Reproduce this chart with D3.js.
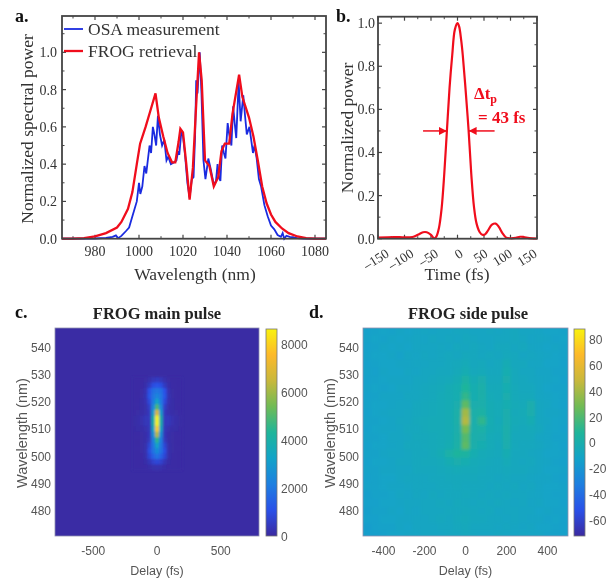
<!DOCTYPE html>
<html>
<head>
<meta charset="utf-8">
<script src="https://cdn.jsdelivr.net/npm/d3@7"></script>
<style>
  html, body { margin: 0; padding: 0; background: #fff; }
  svg { display: block; filter: blur(0.45px); }
  .serif { font-family: "Liberation Serif", serif; }
  .sans { font-family: "Liberation Sans", sans-serif; }
</style>
</head>
<body>
<div id="chart"></div>
<script>
// panel a: spectra as [wavelength nm, power]
var osaSpectrum = [[965,0],[980,0.001],[985,0.004],[988,0.01],[989.5,0.018],[990.5,0.003],[992,0.015],[994,0.04],[995.5,0.06],[997,0.12],[999,0.2],[1000,0.3],[1000.6,0.24],[1001.5,0.28],[1002.5,0.39],[1003.3,0.35],[1004,0.42],[1004.8,0.5],[1005.5,0.46],[1006.3,0.6],[1007,0.56],[1007.8,0.5],[1008.6,0.66],[1009.5,0.56],[1010.5,0.5],[1011.5,0.53],[1012.5,0.42],[1013.3,0.44],[1014.5,0.4],[1016,0.41],[1017,0.42],[1017.8,0.47],[1018.3,0.45],[1019.3,0.58],[1020,0.55],[1021,0.44],[1022,0.3],[1023,0.22],[1024,0.32],[1024.8,0.33],[1025.5,0.55],[1026,0.85],[1026.6,0.78],[1027.6,1],[1028.4,0.78],[1029.3,0.42],[1030.2,0.32],[1031.5,0.43],[1032.5,0.38],[1034,0.29],[1035,0.31],[1035.7,0.4],[1036.3,0.33],[1037,0.31],[1037.8,0.5],[1038.6,0.46],[1039.3,0.43],[1040.3,0.62],[1041,0.56],[1042,0.5],[1042.8,0.71],[1043.5,0.62],[1044.2,0.54],[1045.3,0.84],[1046.2,0.63],[1047.4,0.77],[1048.2,0.66],[1049,0.56],[1050.2,0.6],[1051,0.53],[1051.8,0.46],[1052.5,0.5],[1053.5,0.43],[1054.5,0.32],[1055.5,0.28],[1057,0.18],[1058.5,0.12],[1060,0.07],[1061.5,0.05],[1063,0.02],[1064.5,0.01],[1065.3,0.03],[1066,0],[1067,0.016],[1068.5,0.01],[1072,0.003],[1075,0],[1085,0]];
var frogSpectrum = [[965,0],[970,0],[975,0.003],[980,0.012],[985,0.03],[990,0.06],[992,0.09],[995,0.16],[997,0.25],[999,0.4],[1000.5,0.51],[1003,0.6],[1005,0.68],[1007.5,0.78],[1009,0.65],[1011,0.55],[1013,0.46],[1015,0.41],[1016.5,0.41],[1018,0.52],[1018.8,0.59],[1020,0.57],[1021.5,0.4],[1023,0.21],[1024.5,0.38],[1026,0.72],[1027.3,1],[1028.5,0.85],[1030,0.42],[1032,0.39],[1034,0.28],[1036,0.33],[1037.5,0.47],[1039,0.51],[1041,0.51],[1042.5,0.67],[1045.5,0.88],[1047,0.76],[1050,0.65],[1052,0.55],[1054,0.42],[1056,0.28],[1058,0.19],[1060,0.13],[1062,0.09],[1065,0.055],[1068,0.03],[1072,0.012],[1076,0.003],[1080,0],[1085,0]];

// panel b: retrieved temporal profile as [time fs, power]
var pulseProfile = [[-150,0.005],[-120,0.008],[-100,0.006],[-85,0.008],[-75,0.018],[-65,0.03],[-58,0.03],[-50,0.018],[-44,0.002],[-40,0.01],[-35,0.05],[-30,0.14],[-25,0.3],[-20,0.5],[-15,0.7],[-10,0.85],[-5,0.97],[0,1],[3,0.985],[7,0.92],[10,0.85],[15,0.7],[21,0.5],[26,0.3],[31,0.15],[36,0.07],[42,0.03],[47,0.018],[52,0.02],[58,0.04],[65,0.065],[72,0.07],[78,0.055],[85,0.025],[92,0.005],[100,0.002],[110,0.004],[118,0.009],[125,0.008],[135,0.003],[150,0.001]];

// panel c: FROG trace of the main pulse, only the region around the peak
var mainDelays = [-180,-150,-120,-90,-60,-30,0,30,60,90,120,150,180];
var mainWavelengths = [528,526,524,522,520,518,516,514,512,510,508,506,504,502,500,498,496];
var mainTrace = [
  [60,60,60,90,200,400,500,400,200,90,60,60,60],
  [60,60,70,150,500,1000,1200,1000,500,150,70,60,60],
  [60,60,80,250,1100,1800,2000,1800,1100,250,80,60,60],
  [60,60,90,300,1200,2000,2400,2000,1200,300,90,60,60],
  [60,70,100,250,900,2100,3300,2100,900,250,100,70,60],
  [60,70,100,180,600,2500,5000,2500,600,180,100,70,60],
  [70,90,120,200,450,3100,6900,3100,450,200,120,90,70],
  [80,140,220,380,450,4000,8700,4000,450,420,240,150,80],
  [80,130,200,360,420,4000,8700,4000,420,400,220,140,80],
  [70,100,120,200,400,3400,8000,3400,400,200,120,100,70],
  [60,70,90,150,400,2700,6300,2700,400,150,90,70,60],
  [60,60,80,130,450,2200,4600,2200,450,130,80,60,60],
  [60,60,80,180,800,2000,3300,2000,800,180,80,60,60],
  [60,60,80,200,1000,1900,2600,1900,1000,200,80,60,60],
  [60,60,70,180,800,1500,1900,1500,800,180,70,60,60],
  [60,60,60,100,350,700,850,700,350,100,60,60,60],
  [60,60,60,70,110,180,220,180,110,70,60,60,60]
];
var mainBackground = 60;

// panel d: FROG trace of the side pulse, coarse reading of the whole image
var sideDelays = [-480,-440,-400,-360,-320,-280,-240,-200,-160,-120,-80,-40,0,40,80,120,160,200,240,280,320,360,400,440,480];
var sideWavelengths = [546,543,540,537,534,531,528,525,522,519,516,513,510,507,504,501,498,495,492,489,486,483,480,477,474,471];
var sideTrace = [
  [-13,-12,-11,-12,-10,-11,-10,-9,-10,-9,-9,-8,-8,-9,-9,-8,-9,-8,-7,-9,-9,-10,-11,-11,-12],
  [-12,-11,-12,-10,-11,-10,-9,-10,-8,-9,-8,-9,-7,-8,-9,-9,-8,-8,-7,-8,-10,-9,-10,-12,-11],
  [-13,-12,-10,-11,-10,-11,-9,-9,-9,-8,-9,-7,-8,-7,-8,-9,-7,-7,-8,-7,-9,-10,-11,-10,-12],
  [-12,-11,-11,-10,-12,-9,-10,-8,-9,-8,-7,-8,-6,-7,-8,-7,-8,-6,-7,-9,-8,-9,-10,-11,-12],
  [-13,-12,-11,-11,-10,-10,-9,-9,-8,-8,-7,-6,-4,-7,-6,-8,-7,-3,-7,-7,-9,-9,-11,-11,-13],
  [-12,-13,-10,-11,-11,-9,-10,-8,-8,-7,-7,-5,-2,-6,-5,-7,-7,-1,-6,-8,-8,-10,-10,-12,-12],
  [-13,-12,-11,-10,-10,-10,-8,-8,-7,-6,-5,-3,4,-3,0,-6,-6,0,-6,-7,-8,-9,-10,-11,-13],
  [-12,-11,-12,-11,-9,-9,-8,-7,-6,-5,-3,-1,8,-1,2,-5,-5,-1,-5,-7,-7,-9,-11,-12,-12],
  [-13,-12,-10,-10,-10,-8,-8,-7,-6,-4,-3,-1,13,-1,2,-4,-5,0,-5,-6,-6,-9,-10,-11,-12],
  [-12,-11,-11,-10,-9,-9,-7,-6,-5,-4,-3,0,24,0,1,-3,-4,-1,-4,-5,0,-8,-9,-11,-13],
  [-13,-11,-10,-9,-9,-8,-7,-6,-5,-4,-3,2,40,2,4,-3,-4,0,-5,-4,0,-8,-10,-10,-12],
  [-12,-12,-11,-10,-8,-8,-6,-5,-4,-4,-3,2,44,1,12,-2,-5,0,-4,-5,-2,-8,-9,-11,-12],
  [-13,-11,-10,-10,-9,-7,-7,-5,-4,-4,-3,1,30,1,3,-3,-4,1,-5,-6,-5,-7,-10,-11,-13],
  [-12,-12,-11,-9,-9,-8,-6,-6,-5,-4,-3,2,22,1,0,-4,-5,1,-6,-6,-6,-9,-10,-12,-12],
  [-13,-11,-11,-10,-9,-7,-7,-6,-5,-4,-2,3,24,1,-1,-4,-6,0,-6,-7,-7,-8,-10,-11,-13],
  [-12,-12,-10,-9,-9,-8,-7,-7,-5,-3,3,7,6,-1,-4,-5,-6,-2,-7,-7,-8,-9,-11,-11,-12],
  [-13,-11,-11,-10,-8,-8,-7,-6,-6,-5,-2,0,-1,-4,-5,-6,-7,-4,-7,-8,-7,-9,-10,-12,-13],
  [-12,-12,-10,-10,-9,-9,-7,-7,-7,-6,-5,-4,-5,-5,-6,-7,-7,-6,-7,-7,-8,-9,-11,-11,-12],
  [-13,-12,-11,-11,-9,-8,-8,-8,-7,-7,-6,-6,-6,-6,-7,-7,-8,-7,-8,-8,-9,-10,-10,-12,-13],
  [-12,-12,-11,-10,-10,-9,-8,-8,-8,-7,-7,-6,-7,-7,-7,-8,-7,-8,-7,-9,-8,-10,-11,-11,-12],
  [-14,-12,-12,-11,-9,-10,-8,-9,-7,-8,-7,-7,-6,-7,-8,-7,-8,-7,-8,-8,-9,-10,-11,-12,-12],
  [-13,-13,-11,-11,-10,-9,-9,-8,-8,-7,-8,-6,-7,-8,-7,-8,-7,-8,-9,-8,-10,-9,-11,-11,-13],
  [-14,-12,-12,-10,-11,-9,-10,-8,-8,-8,-7,-7,-6,-7,-8,-7,-9,-8,-8,-9,-9,-11,-10,-12,-12],
  [-13,-13,-11,-11,-10,-10,-9,-9,-8,-7,-8,-6,-5,-7,-7,-8,-8,-9,-8,-9,-10,-10,-12,-11,-13],
  [-15,-13,-12,-12,-10,-11,-9,-9,-9,-8,-8,-7,-6,-8,-8,-8,-9,-8,-9,-10,-9,-11,-11,-12,-13],
  [-14,-14,-13,-11,-11,-10,-10,-9,-9,-9,-8,-8,-7,-8,-9,-9,-8,-9,-10,-9,-10,-10,-12,-12,-13]
];

// parula-like colormap and the tick labels
var parula = ["#3b2aa0","#2a50e8","#1e7fe0","#12a3c8","#1fb59a","#70bb55","#c8b83c","#fdb92a","#f9f20e"];
var spectrumXTicks = [980,1000,1020,1040,1060,1080];
var powerTicks = [0,0.2,0.4,0.6,0.8,1.0];
var timeTicks = [-150,-100,-50,0,50,100,150];
var frogWlTicks = [480,490,500,510,520,530,540];
var mainDelayTicks = [-500,0,500];
var sideDelayTicks = [-400,-200,0,200,400];
var mainBarTicks = [0,2000,4000,6000,8000];
var sideBarTicks = [-60,-40,-20,0,20,40,60,80];

var FRAME = "#444", BLUE = "#1a2be0", RED = "#f00d1c";
var svg = d3.select("#chart").append("svg")
    .attr("width", 606)
    .attr("height", 579);

var defs = svg.append("defs");
function softFilter(id, amount) {
    defs.append("filter").attr("id", id)
        .attr("x", "-5%").attr("y", "-5%").attr("width", "110%").attr("height", "110%")
        .append("feGaussianBlur").attr("stdDeviation", amount).attr("edgeMode", "duplicate");
}
softFilter("softMain", 1.3);
softFilter("softSide", 1.6);

//************************************************************************************************************
// line panels
//************************************************************************************************************
function framedPanel(box, xScale, yScale, xTicks, xMinor, yTicks, yMinor) {
    var g = svg.append("g").attr("class", "serif");
    function ticks(values, len, width) {
        values.forEach(function(v) {
            [[box.bottom, -len], [box.top, len]].forEach(function(s) {
                g.append("line").attr("x1", xScale(v)).attr("x2", xScale(v))
                    .attr("y1", s[0]).attr("y2", s[0] + s[1])
                    .attr("stroke", FRAME).attr("stroke-width", width);
            });
        });
    }
    function yticks(values, len, width) {
        values.forEach(function(v) {
            [[box.left, len], [box.right, -len]].forEach(function(s) {
                g.append("line").attr("y1", yScale(v)).attr("y2", yScale(v))
                    .attr("x1", s[0]).attr("x2", s[0] + s[1])
                    .attr("stroke", FRAME).attr("stroke-width", width);
            });
        });
    }
    ticks(xTicks, 4, 1.2); ticks(xMinor, 2.5, 1);
    yticks(yTicks, 4, 1.2); yticks(yMinor, 2.5, 1);
    return g;
}

function frame(box) {
    svg.append("rect")
        .attr("x", box.left).attr("y", box.top)
        .attr("width", box.right - box.left).attr("height", box.bottom - box.top)
        .attr("fill", "none").attr("stroke", FRAME).attr("stroke-width", 1.8);
}

function serifText(x, y, str, size, opts) {
    opts = opts || {};
    var t = svg.append("text").attr("class", "serif")
        .attr("x", x).attr("y", y)
        .attr("font-size", size)
        .attr("fill", opts.fill || "#333")
        .attr("font-weight", opts.bold ? "bold" : "normal")
        .attr("text-anchor", opts.anchor || "middle")
        .text(str);
    if (opts.rotate !== undefined) { t.attr("transform", "rotate(" + opts.rotate + "," + x + "," + y + ")"); }
    return t;
}

// a. spectrum
var boxA = {left: 62, right: 326, top: 16, bottom: 238.7};
var xA = d3.scaleLinear().domain([965, 1085]).range([boxA.left, boxA.right]);
var yA = d3.scaleLinear().domain([0, 1.195]).range([boxA.bottom, boxA.top]);
framedPanel(boxA, xA, yA, spectrumXTicks, [970,990,1010,1030,1050,1070],
    powerTicks, [0.1,0.3,0.5,0.7,0.9,1.1]);
var lineA = d3.line().x(function(d) { return xA(d[0]); }).y(function(d) { return yA(d[1]); });
svg.append("path").datum(osaSpectrum).attr("d", lineA)
    .attr("fill", "none").attr("stroke", BLUE).attr("stroke-width", 1.8);
svg.append("path").datum(frogSpectrum).attr("d", lineA)
    .attr("fill", "none").attr("stroke", RED).attr("stroke-width", 2.3);
frame(boxA);
spectrumXTicks.forEach(function(v) { serifText(xA(v), 256, v, 14); });
powerTicks.forEach(function(v) { serifText(57, yA(v) + 5, v.toFixed(1), 14, {anchor: "end"}); });
serifText(195, 280, "Wavelength (nm)", 17.5);
serifText(33, 129, "Normalized spectral power", 17.5, {rotate: -90});

svg.append("line").attr("x1", 64).attr("x2", 83).attr("y1", 29).attr("y2", 29)
    .attr("stroke", BLUE).attr("stroke-width", 1.8);
svg.append("line").attr("x1", 64).attr("x2", 83).attr("y1", 51).attr("y2", 51)
    .attr("stroke", RED).attr("stroke-width", 2.3);
serifText(88, 35, "OSA measurement", 17.5, {anchor: "start"});
serifText(88, 57, "FROG retrieval", 17.5, {anchor: "start"});
serifText(15, 22, "a.", 18, {anchor: "start", bold: true, fill: "#111"});

// b. temporal profile
var boxB = {left: 378, right: 537, top: 16.7, bottom: 238.7};
var xB = d3.scaleLinear().domain([-150, 150]).range([boxB.left, boxB.right]);
var yB = d3.scaleLinear().domain([0, 1.03]).range([boxB.bottom, boxB.top]);
// the rotated labels sit a little tighter than the ticks
var xBLabel = d3.scaleLinear().domain([-150, 150]).range([390, 538]);
framedPanel(boxB, xB, yB, timeTicks, [-125,-75,-25,25,75,125], powerTicks, [0.1,0.3,0.5,0.7,0.9]);
svg.append("path").datum(pulseProfile)
    .attr("d", d3.line().curve(d3.curveCatmullRom)
        .x(function(d) { return xB(d[0]); }).y(function(d) { return yB(d[1]); }))
    .attr("fill", "none").attr("stroke", RED).attr("stroke-width", 2.2);
frame(boxB);
timeTicks.forEach(function(v) {
    serifText(xBLabel(v), 256, (v < 0 ? "\u2013" : "") + Math.abs(v), 13.5,
        {anchor: "end", rotate: -32});
});
powerTicks.forEach(function(v) { serifText(375, yB(v) + 5, v.toFixed(1), 14, {anchor: "end"}); });
serifText(457, 280, "Time (fs)", 17.5);
serifText(353, 128, "Normalized power", 17.5, {rotate: -90});
serifText(336, 22, "b.", 18, {anchor: "start", bold: true, fill: "#111"});

// FWHM arrows
defs.append("marker").attr("id", "arrowRed").attr("viewBox", "0 0 8 8")
    .attr("refX", 8).attr("refY", 4).attr("markerWidth", 8).attr("markerHeight", 8)
    .attr("markerUnits", "userSpaceOnUse").attr("orient", "auto")
    .append("path").attr("d", "M0,0L8,4L0,8Z").attr("fill", RED);
svg.append("line").attr("x1", xB(-65)).attr("x2", xB(-20)).attr("y1", yB(0.5)).attr("y2", yB(0.5))
    .attr("stroke", RED).attr("stroke-width", 1.5).attr("marker-end", "url(#arrowRed)");
svg.append("line").attr("x1", xB(70)).attr("x2", xB(21)).attr("y1", yB(0.5)).attr("y2", yB(0.5))
    .attr("stroke", RED).attr("stroke-width", 1.5).attr("marker-end", "url(#arrowRed)");
var dt = serifText(474, 99, "\u0394t", 17, {anchor: "start", bold: true, fill: RED});
dt.append("tspan").attr("dy", 4).attr("font-size", 12).text("p");
serifText(478, 123, "= 43 fs", 17, {anchor: "start", bold: true, fill: RED});

//************************************************************************************************************
// FROG image panels
//************************************************************************************************************
function frogPanel(o) {
    var x = d3.scaleLinear().domain(o.xDomain).range([o.left, o.right]);
    var y = d3.scaleLinear().domain([547, 470.8]).range([328, 536]);
    var ramp = d3.piecewise(d3.interpolateRgb, parula);
    var color = d3.scaleSequential(ramp).domain(o.zDomain);
    var clipId = "clip" + o.id;
    defs.append("clipPath").attr("id", clipId).append("rect")
        .attr("x", o.left).attr("y", 328).attr("width", o.right - o.left).attr("height", 208);

    var img = svg.append("g").attr("clip-path", "url(#" + clipId + ")");
    img.append("rect").attr("x", o.left).attr("y", 328)
        .attr("width", o.right - o.left).attr("height", 208)
        .attr("fill", color(o.background));
    var cells = img.append("g").attr("filter", "url(#" + o.filter + ")");
    var dx = Math.abs(o.delays[1] - o.delays[0]), dw = Math.abs(o.wavelengths[1] - o.wavelengths[0]);
    o.values.forEach(function(row, r) {
        row.forEach(function(v, c) {
            cells.append("rect")
                .attr("x", x(o.delays[c] - dx / 2))
                .attr("y", y(o.wavelengths[r] + dw / 2))
                .attr("width", x(o.delays[c] + dx / 2) - x(o.delays[c] - dx / 2) + 0.5)
                .attr("height", y(o.wavelengths[r] - dw / 2) - y(o.wavelengths[r] + dw / 2) + 0.5)
                .attr("fill", color(v));
        });
    });
    svg.append("rect").attr("x", o.left).attr("y", 328)
        .attr("width", o.right - o.left).attr("height", 208)
        .attr("fill", "none").attr("stroke", "#8f8fb0").attr("stroke-width", 0.8);

    // tick labels (these axes have no visible tick marks in the reference)
    var labels = svg.append("g").attr("class", "sans").attr("fill", "#555");
    frogWlTicks.forEach(function(v) {
        labels.append("text").attr("x", o.left - 4).attr("y", y(v) + 4.5)
            .attr("text-anchor", "end").attr("font-size", 12).text(v);
    });
    o.xTicks.forEach(function(v) {
        labels.append("text").attr("x", x(v)).attr("y", 555)
            .attr("text-anchor", "middle").attr("font-size", 12).text(v);
    });
    labels.append("text").attr("x", (o.left + o.right) / 2).attr("y", 575)
        .attr("text-anchor", "middle").attr("font-size", 12.5).text("Delay (fs)");
    labels.append("text").attr("transform", "translate(" + (o.left - 28) + ",433) rotate(-90)")
        .attr("text-anchor", "middle").attr("font-size", 14.5).text("Wavelength (nm)");

    // colorbar
    var bar = d3.scaleLinear().domain(o.zDomain).range([536, 328]);
    var gradId = "grad" + o.id;
    var grad = defs.append("linearGradient").attr("id", gradId)
        .attr("x1", 0).attr("x2", 0).attr("y1", 1).attr("y2", 0);
    parula.forEach(function(c, i) {
        grad.append("stop").attr("offset", i / (parula.length - 1)).attr("stop-color", c);
    });
    svg.append("rect").attr("x", o.barX).attr("y", 329).attr("width", 11).attr("height", 207)
        .attr("fill", "url(#" + gradId + ")").attr("stroke", "#777").attr("stroke-width", 0.8);
    o.barTicks.forEach(function(v) {
        labels.append("text").attr("x", o.barX + 15).attr("y", bar(v) + 4.5)
            .attr("font-size", 12).text(v);
    });
}

frogPanel({
    id: "C", filter: "softMain", left: 55, right: 259, barX: 266,
    xDomain: [-800, 800], zDomain: [0, 8700], background: mainBackground,
    delays: mainDelays, wavelengths: mainWavelengths, values: mainTrace,
    xTicks: mainDelayTicks, barTicks: mainBarTicks
});
frogPanel({
    id: "D", filter: "softSide", left: 363, right: 568, barX: 574,
    xDomain: [-500, 500], zDomain: [-72, 89], background: -9,
    delays: sideDelays, wavelengths: sideWavelengths, values: sideTrace,
    xTicks: sideDelayTicks, barTicks: sideBarTicks
});

serifText(15, 318, "c.", 18, {anchor: "start", bold: true, fill: "#111"});
serifText(309, 318, "d.", 18, {anchor: "start", bold: true, fill: "#111"});
serifText(157, 319, "FROG main pulse", 16.5, {bold: true, fill: "#222"});
serifText(468, 319, "FROG side pulse", 16.5, {bold: true, fill: "#222"});
</script>
</body>
</html>
